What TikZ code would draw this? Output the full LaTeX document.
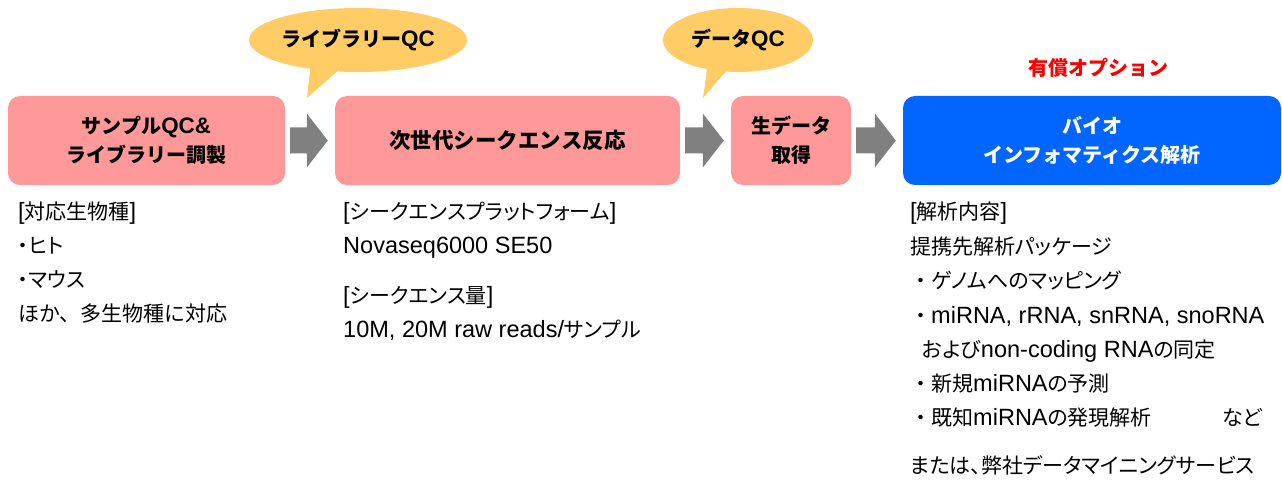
\documentclass[tikz,border=0pt]{standalone}
\usepackage{fontspec}
\setmainfont[RawFeature=+palt]{Noto Sans CJK JP}
\newfontfamily\hdfont{Noto Sans CJK JP}
\newfontfamily\lat[Scale=1.12]{Liberation Sans}
\usetikzlibrary{calc,shapes.geometric}
\definecolor{pinkbox}{HTML}{FF9999}
\definecolor{bluebox}{HTML}{0066FF}
\definecolor{callfill}{HTML}{FFCC66}
\definecolor{arrowgray}{HTML}{808080}
\definecolor{optred}{HTML}{FF0000}
\newcommand{\garrow}[2]{%
  \fill[arrowgray] let \p1=($(#1.east)+(5,0)$), \p2=($(#2.west)+(-7,0)$) in
    (\x1,\y1+13pt) -- (\x2-21pt,\y1+13pt) -- (\x2-21pt,\y1+27pt) -- (\x2,\y1)
    -- (\x2-21pt,\y1-27pt) -- (\x2-21pt,\y1-13pt) -- (\x1,\y1-13pt) -- cycle;}
\newcommand{\fw}[1]{{\hdfont #1}}
\begin{document}
\begin{tikzpicture}[x=1pt,y=-1pt,
  procbox/.style={rectangle, rounded corners=12pt, fill=pinkbox, minimum height=89pt,
    inner sep=0pt, align=center, font=\hdfont\bfseries\fontsize{20}{29}\selectfont},
  bubble/.style={ellipse, fill=callfill, inner sep=0pt, minimum height=64pt},
  bubtext/.style={font=\hdfont\bfseries\fontsize{20}{24}\selectfont},
  body/.style={anchor=west, inner sep=0pt, text height=17pt, text depth=3pt,
    font=\fontsize{21}{26}\selectfont}]
\useasboundingbox (0,0) rectangle (1282,481);

% process boxes
\node[procbox, minimum width=277pt] (b1) at (146.5,140.5) {サンプル{\lat QC\&}\\ライブラリー調製};
\node[procbox, minimum width=345pt, font=\hdfont\bfseries\fontsize{21.5}{29}\selectfont] (b2) at (507.5,140.5) {次世代シークエンス反応};
\node[procbox, minimum width=120pt] (b3) at (791,140.5) {生データ\\取得};
\node[procbox, fill=bluebox, text=white, minimum width=378pt] (b4) at (1092,140.5) {バイオ\\インフォマティクス解析};

% block arrows
\garrow{b1}{b2}
\garrow{b2}{b3}
\garrow{b3}{b4}

% callouts
\node[bubble, minimum width=218pt] (q1) at (358,40) {};
\coordinate (t1) at (307,98);
\fill[callfill] ($(q1.center)+(-47,22)$) -- (t1) -- ($(q1.center)+(-10,22)$) -- cycle;
\node[bubtext] (q1t) at (q1.center) {ライブラリー{\lat QC}};

\node[bubble, minimum width=150pt] (q2) at (738,40) {};
\coordinate (t2) at (703,98);
\fill[callfill] ($(q2.center)+(-30,22)$) -- (t2) -- ($(q2.center)+(-4,22)$) -- cycle;
\node[bubtext] (q2t) at (q2.center) {データ{\lat QC}};

\node[bubtext, text=optred] (opt) at (1098,68) {有償オプション};

% column 1
\node[body] (c1a) at (18,213) {{\lat[}対応生物種{\lat]}};
\node[body] (c1b) at (18,246) {・ヒト};
\node[body] (c1c) at (18,280) {・マウス};
\node[body] (c1d) at (18,314) {\fw{ほか、多生物種に対応}};

% column 2
\node[body] (c2a) at (343,213) {{\lat[}シークエンスプラットフォーム{\lat]}};
\node[body] (c2b) at (343,246) {{\lat Novaseq6000 SE50}};
\node[body] (c2c) at (343,296) {{\lat[}シークエンス量{\lat]}};
\node[body] (c2d) at (343,330) {{\lat 10M, 20M raw reads/}サンプル};

% column 3
\node[body] (c3a) at (910,213) {{\lat[}解析内容{\lat]}};
\node[body] (c3b) at (910,247) {提携先解析パッケージ};
\node[body] (c3c) at (910,281) {\fw{・}ゲノムへのマッピング};
\node[body] (c3d) at (910,316) {\fw{・}{\lat miRNA, rRNA, snRNA, snoRNA}};
\node[body] (c3e) at (922,350) {および{\lat non-coding RNA}の同定};
\node[body] (c3f) at (910,384) {\fw{・}新規{\lat miRNA}の予測};
\node[body] (c3g) at (910,418) {\makebox[352pt][l]{\fw{・}既知{\lat miRNA}の発現解析\hfill など}};
\node[body] (c3h) at (910,466) {または、弊社データマイニングサービス};
\end{tikzpicture}
\end{document}
